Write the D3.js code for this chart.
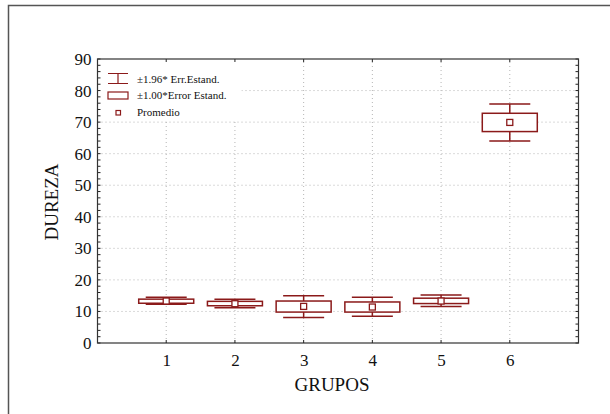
<!DOCTYPE html>
<html>
<head>
<meta charset="utf-8">
<script src="https://cdn.jsdelivr.net/npm/d3@7"></script>
<style>
  body { margin: 0; background: #fff; }
  svg text { font-family: "Liberation Serif", "DejaVu Serif", serif; fill: #111; }
</style>
</head>
<body>
<div id="chart"></div>
<script>
// values
const groups = [1, 2, 3, 4, 5, 6]
const means = [13.3, 12.45, 11.6, 11.4, 13.3, 69.9]
const boxLow = [12.6, 11.8, 9.8, 9.8, 12.5, 67.0]
const boxHigh = [13.9, 13.2, 13.3, 13.0, 14.2, 72.8]
const whiskLow = [12.3, 11.2, 8.1, 8.5, 11.6, 64.0]
const whiskHigh = [14.5, 13.85, 15.0, 14.5, 15.2, 75.7]
const yTicks = [0, 10, 20, 30, 40, 50, 60, 70, 80, 90]
const legendLabels = ['±1.96* Err.Estand.', '±1.00*Error Estand.', 'Promedio']

const W = 610, H = 414
const red = '#8b1a1a'
const margin = { left: 97.5, top: 59, right: 31.5, bottom: 71 }

const svg = d3.select('#chart').append('svg')
    .attr('width', W)
    .attr('height', H)

// outer frame
svg.append('path')
    .attr('d', 'M8.5,' + H + 'V5.5H' + W)
    .attr('fill', 'none')
    .attr('stroke', '#555')
    .attr('stroke-width', 1.5)

let x = d3.scaleLinear().domain([0, 7]).range([margin.left, W - margin.right])
let y = d3.scaleLinear().domain([0, 90]).range([H - margin.bottom, margin.top])

const x0 = x.range()[0], x1 = x.range()[1]
const y0 = y.range()[0], y1 = y.range()[1]

// grid
let grid = svg.append('g').attr('stroke', '#b5b5b5').attr('stroke-dasharray', '1,3')
grid.selectAll('.hg')
    .data(yTicks.filter(d => d > 0 && d < 90))
    .enter().append('line')
    .attr('x1', x0).attr('x2', x1)
    .attr('y1', d => y(d)).attr('y2', d => y(d))
grid.selectAll('.vg')
    .data(groups)
    .enter().append('line')
    .attr('x1', d => x(d)).attr('x2', d => x(d))
    .attr('y1', y0).attr('y2', y1)

// legend (white background hides the grid)
let legend = svg.append('g')
legend.append('rect')
    .attr('x', x0 + 1).attr('y', y1 + 3)
    .attr('width', 143).attr('height', 58)
    .attr('fill', '#fff')
let lx = 118
legend.append('path')
    .attr('d', 'M' + (lx - 10) + ',73.5H' + (lx + 10) + 'M' + lx + ',73.5V83.5M' + (lx - 10) + ',83.5H' + (lx + 10))
    .attr('stroke', red).attr('stroke-width', 1.2).attr('fill', 'none')
legend.append('rect')
    .attr('x', lx - 10).attr('y', 92).attr('width', 20).attr('height', 7)
    .attr('stroke', red).attr('stroke-width', 1.2).attr('fill', '#fff')
legend.append('rect')
    .attr('x', lx - 2).attr('y', 110.5).attr('width', 4.5).attr('height', 4.5)
    .attr('stroke', red).attr('stroke-width', 1.2).attr('fill', '#fff')
legend.selectAll('.lt')
    .data(legendLabels)
    .enter().append('text')
    .attr('x', 137)
    .attr('y', (d, i) => 82.5 + i * 16.5)
    .attr('font-size', 11)
    .text(d => d)

// boxes
let g = svg.append('g')
    .selectAll('.grp')
    .data(groups)
    .enter().append('g')

g.append('path')
    .attr('d', (d, i) => 'M' + (x(d) - 20.5) + ',' + y(whiskHigh[i]) + 'H' + (x(d) + 20.5) +
        'M' + x(d) + ',' + y(whiskHigh[i]) + 'V' + y(whiskLow[i]) +
        'M' + (x(d) - 20.5) + ',' + y(whiskLow[i]) + 'H' + (x(d) + 20.5))
    .attr('stroke', red).attr('stroke-width', 1.5).attr('fill', 'none')
g.append('rect')
    .attr('x', d => x(d) - 27.5)
    .attr('y', (d, i) => y(boxHigh[i]))
    .attr('width', 55)
    .attr('height', (d, i) => y(boxLow[i]) - y(boxHigh[i]))
    .attr('stroke', red).attr('stroke-width', 1.5).attr('fill', '#fff')
g.append('rect')
    .attr('x', d => x(d) - 3)
    .attr('y', (d, i) => y(means[i]) - 3)
    .attr('width', 6).attr('height', 6)
    .attr('stroke', red).attr('stroke-width', 1.3).attr('fill', '#fff')

// axes
let yAxis = d3.axisLeft(y).tickValues(yTicks).tickSize(0).tickPadding(6)
let ya = svg.append('g').attr('transform', 'translate(' + x0 + ',0)').call(yAxis)
ya.select('.domain').remove()
ya.selectAll('text').attr('font-size', 17).attr('font-family', '"Liberation Serif", serif')

let xAxis = d3.axisBottom(x).tickValues(groups).tickFormat(d3.format('d')).tickSize(0).tickPadding(11)
let xa = svg.append('g').attr('transform', 'translate(0,' + y0 + ')').call(xAxis)
xa.select('.domain').remove()
xa.selectAll('text').attr('font-size', 17).attr('font-family', '"Liberation Serif", serif')

// minor ticks inside the frame
let minor = d3.range(0, 91, 2)
let ticks = svg.append('g').attr('stroke', '#222').attr('stroke-width', 1)
ticks.selectAll('.ml').data(minor).enter().append('line')
    .attr('x1', x0).attr('x2', x0 + 3).attr('y1', d => y(d)).attr('y2', d => y(d))
ticks.selectAll('.mr').data(minor).enter().append('line')
    .attr('x1', x1).attr('x2', x1 - 3).attr('y1', d => y(d)).attr('y2', d => y(d))
ticks.selectAll('.tb').data(groups).enter().append('line')
    .attr('x1', d => x(d)).attr('x2', d => x(d)).attr('y1', y0).attr('y2', y0 - 3)
ticks.selectAll('.tt').data(groups).enter().append('line')
    .attr('x1', d => x(d)).attr('x2', d => x(d)).attr('y1', y1).attr('y2', y1 + 3)

// plot frame
svg.append('rect')
    .attr('x', x0).attr('y', y1)
    .attr('width', x1 - x0).attr('height', y0 - y1)
    .attr('fill', 'none').attr('stroke', '#333').attr('stroke-width', 1.2)

// titles
svg.append('text')
    .attr('x', (x0 + x1) / 2 - 6)
    .attr('y', 391)
    .attr('text-anchor', 'middle')
    .attr('font-size', 19)
    .text('GRUPOS')
svg.append('text')
    .attr('transform', 'translate(58,' + 202 + ') rotate(-90)')
    .attr('text-anchor', 'middle')
    .attr('font-size', 19)
    .text('DUREZA')
</script>
</body>
</html>
